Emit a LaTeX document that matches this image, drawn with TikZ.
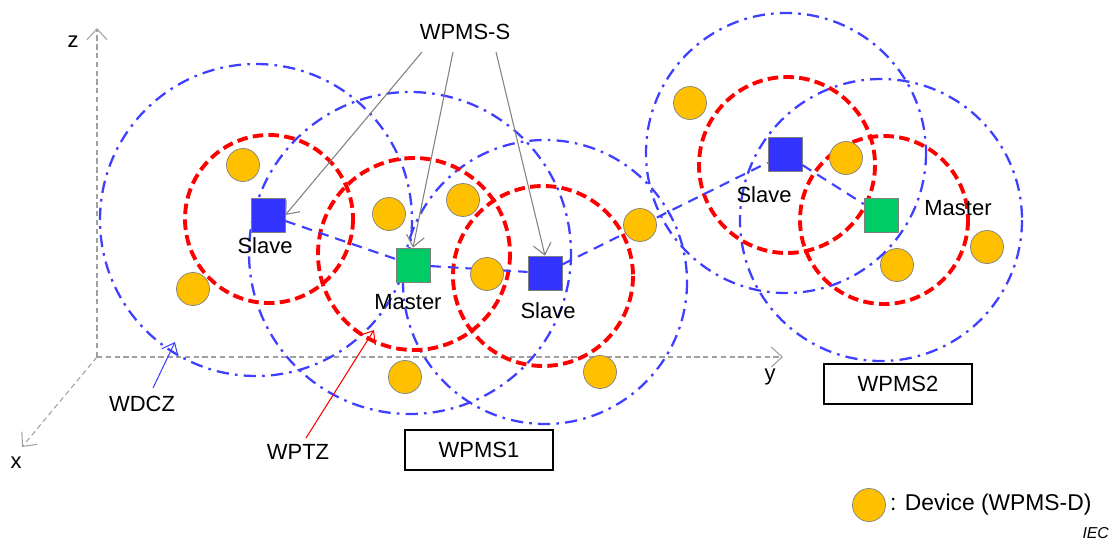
\documentclass[tikz,border=0pt]{standalone}
\usepackage{fontspec}
\setmainfont{Liberation Sans}
\usetikzlibrary{arrows.meta}
\definecolor{zoneblue}{HTML}{3F3FFF}
\definecolor{ptzred}{HTML}{FF0000}
\definecolor{slaveblue}{HTML}{3333FF}
\definecolor{mastergreen}{HTML}{00CC66}
\definecolor{devyellow}{HTML}{FFC000}
\definecolor{edge}{HTML}{7F7F7F}
\definecolor{axisgray}{HTML}{A0A0A0}
\definecolor{pointgray}{HTML}{808080}

\begin{document}
\begin{tikzpicture}[x=0.02cm,y=-0.02cm,font=\fontsize{12.5}{15}\selectfont,
 wdcz/.style={draw=zoneblue,line width=1.3pt,dash pattern=on 7pt off 3.5pt on 1.5pt off 3.5pt},
 wptz/.style={draw=ptzred,line width=2.2pt,dash pattern=on 6pt off 3pt},
 link/.style={draw=zoneblue,line width=1.2pt,dash pattern=on 6pt off 4pt},
 slave/.style={draw=edge,fill=slaveblue,minimum size=0.68cm,inner sep=0pt},
 master/.style={draw=edge,fill=mastergreen,minimum size=0.68cm,inner sep=0pt},
 device/.style={circle,draw=edge,fill=devyellow,minimum size=0.66cm,inner sep=0pt},
 axisline/.style={draw=axisgray,line width=0.6pt,dash pattern=on 3pt off 2pt,-{Straight Barb[length=2.2mm,width=4mm]}},
 pointer/.style={line width=0.6pt,-{Straight Barb[length=2.2mm,width=3.6mm]}},
 txt/.style={inner sep=1pt},
 tag/.style={draw,line width=0.8pt,minimum width=2.96cm,minimum height=0.8cm}]
\path[use as bounding box] (0,0) rectangle (1115,541);
% axes
\coordinate (orig) at (97,357);
\coordinate (ztip) at (97,28);
\coordinate (ytip) at (783,357);
\coordinate (xtip) at (22,447);
\draw[axisline] (orig)--(ztip);
\draw[axisline] (orig)--(ytip);
\draw[axisline] (orig)--(xtip);
\node[txt] (zlab) at (73,42) {z};
\node[txt] (ylab) at (770,377) {y};
\node[txt] (xlab) at (16,463) {x};
% zones
\draw[wdcz] (256,220) circle[radius=156];
\draw[wdcz] (410,253) circle[radius=161];
\draw[wdcz] (545,282) circle[radius=142];
\draw[wdcz] (786,153) circle[radius=140];
\draw[wdcz] (881,220) circle[radius=141];
\draw[wptz] (269,219) circle[radius=84];
\draw[wptz] (414,254) circle[radius=96];
\draw[wptz] (543,276) circle[radius=90];
\draw[wptz] (787,165) circle[radius=88];
\draw[wptz] (884,220) circle[radius=84];
% stations
\node[slave] (lslave) at (268,215) {};
\node[master] (lmaster) at (413,265) {};
\node[slave] (mslave) at (545,273) {};
\node[slave] (rslave) at (785,154) {};
\node[master] (rmaster) at (881,215) {};
\node[txt] (lslavelab) at (265,246) {Slave};
\node[txt] (lmasterlab) at (408,302) {Master};
\node[txt] (mslavelab) at (548,311) {Slave};
\node[txt] (rslavelab) at (764,195) {Slave};
\node[txt] (rmasterlab) at (958,208) {Master};
\draw[link] (lslave)--(lmaster);
\draw[link] (lmaster)--(mslave);
\draw[link] (mslave)--(rslave);
\draw[link] (rslave)--(rmaster);
% devices
\foreach \p [count=\i] in {(243,165),(193,289),(389,214),(463,200),(487,274),(640,225),
 (405,377),(600,372),(690,103),(846,158),(897,265),(987,247)}
 \node[device] (dev\i) at \p {};
% pointers
\node[txt] (wpmss) at (465,32) {WPMS-S};
\coordinate (s1) at (422,52);
\coordinate (s2) at (453,52);
\coordinate (s3) at (496,52);
\draw[pointer,pointgray] (s1)--(lslave.east);
\draw[pointer,pointgray] (s2)--(lmaster.north);
\draw[pointer,pointgray] (s3)--(mslave.north);
\node[txt] (wdczlab) at (142,404) {WDCZ};
\coordinate (wdcztail) at (153,388);
\coordinate (wdcztip) at (175,342);
\draw[pointer,zoneblue] (wdcztail)--(wdcztip);
\node[txt] (wptzlab) at (298,452) {WPTZ};
\coordinate (wptztail) at (306,438);
\coordinate (wptztip) at (374,330);
\draw[pointer,ptzred] (wptztail)--(wptztip);
% systems
\node[tag] (wpms1) at (479,450) {WPMS1};
\node[tag] (wpms2) at (898,384) {WPMS2};
% legend
\node[device] (legdev) at (869,505) {};
\node[txt,anchor=west,font=\fontsize{13}{15}\selectfont] (legtxt) at (888,505) {: Device (WPMS-D)};
\node[txt,anchor=east,font=\fontsize{9}{11}\selectfont\itshape] (iec) at (1111,533) {IEC};
\end{tikzpicture}
\end{document}
